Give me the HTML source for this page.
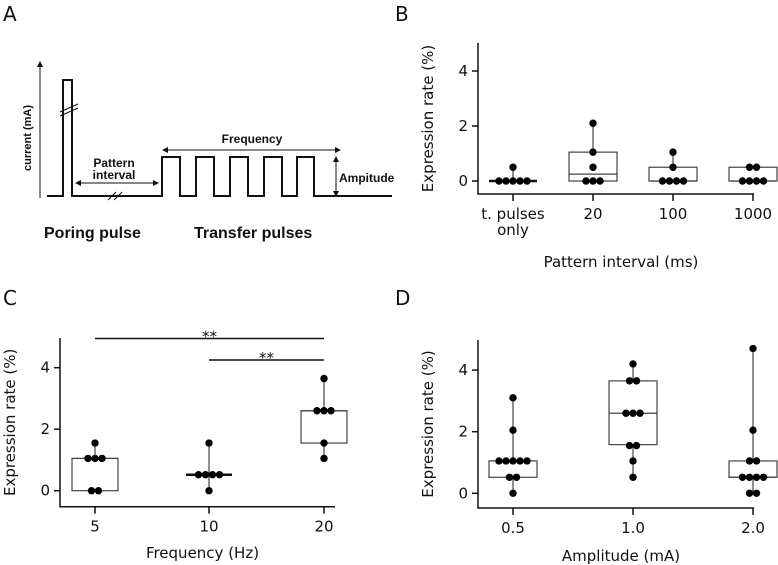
<!DOCTYPE html>
<html><head><meta charset="utf-8"><style>
body{margin:0;background:#fff}
svg{display:block}
.t{font-family:"DejaVu Sans","Liberation Sans",sans-serif;font-size:15px;fill:#111}
.a{font-family:"Liberation Sans",sans-serif;font-weight:bold;fill:#111}
.L{font-family:"DejaVu Sans","Liberation Sans",sans-serif;font-size:20px;fill:#111}
</style></head><body>
<svg id="s" width="778" height="565" xmlns="http://www.w3.org/2000/svg">
<defs><marker id="ar" markerWidth="6" markerHeight="6" refX="5" refY="3" orient="auto-start-reverse"><path d="M0,0L6,3L0,6z" fill="#111"/></marker></defs>
<g>
<text class="L" x="3" y="21">A</text>
<line x1="40" y1="198" x2="40" y2="62" stroke="#111" stroke-width="1" marker-end="url(#ar)"/>
<text class="a" font-size="11" transform="translate(31,138) rotate(-90)" text-anchor="middle">current (mA)</text>
<path d="M47,196H63V80H72V196H162V157H180V196H196V157H214V196H230V157H248V196H264V157H282V196H297V157H314V196H392" fill="none" stroke="#111" stroke-width="2"/>
<path d="M60,112L78,104M60,116L78,108" stroke="#111" stroke-width="1"/>
<path d="M108,200L116,192M114,200L122,192" stroke="#111" stroke-width="1"/>
<line x1="76" y1="183" x2="158" y2="183" stroke="#111" marker-start="url(#ar)" marker-end="url(#ar)"/>
<text class="a" font-size="12" x="114" y="167" text-anchor="middle">Pattern</text>
<text class="a" font-size="12" x="114" y="179" text-anchor="middle">interval</text>
<line x1="163" y1="150" x2="340" y2="150" stroke="#111" marker-start="url(#ar)" marker-end="url(#ar)"/>
<text class="a" font-size="12" x="252" y="143" text-anchor="middle">Frequency</text>
<line x1="336" y1="157" x2="336" y2="196" stroke="#111" marker-start="url(#ar)" marker-end="url(#ar)"/>
<text class="a" font-size="12" x="339" y="182">Ampitude</text>
<text class="a" font-size="16" x="44" y="238">Poring pulse</text>
<text class="a" font-size="16" x="194" y="238">Transfer pulses</text>
</g>
<text class="L" x="395" y="21">B</text>
<text class="L" x="3" y="305">C</text>
<text class="L" x="395" y="305">D</text>
</svg>
<script>
// Panel B data
const bCats=["t. pulses|only","20","100","1000"];
const bPoints=[[0.5,0,0,0,0,0],[2.1,1.05,0.5,0,0,0],[1.05,0.5,0,0,0,0],[0.5,0.5,0,0,0,0]];
const bBoxes=[[0,0,0],[0,0.25,1.05],[0,0,0.5],[0,0,0.5]];
const bTicks=[0,2,4];
// Panel C data
const cCats=["5","10","20"];
const cPoints=[[1.55,1.05,1.05,1.05,0,0],[1.55,0.52,0.52,0.52,0.52,0],[3.65,2.6,2.6,2.6,1.55,1.05]];
const cBoxes=[[0,1.05,1.05],[0.52,0.52,0.52],[1.55,2.6,2.6]];
const cTicks=[0,2,4];
const cSig=[[0,2,4.95],[1,2,4.25]];
// Panel D data
const dCats=["0.5","1.0","2.0"];
const dPoints=[[3.1,2.05,1.05,1.05,1.05,1.05,1.05,0.52,0.52,0],[4.2,3.65,3.65,2.6,2.6,2.6,1.55,1.55,1.05,0.52],[4.7,2.05,1.05,1.05,0.52,0.52,0.52,0.52,0,0]];
const dBoxes=[[0.52,1.05,1.05],[1.58,2.6,3.65],[0.52,0.52,1.05]];
const dTicks=[0,2,4];

const svg=document.getElementById('s');const NS="http://www.w3.org/2000/svg";
function mk(t,a,p){const e=document.createElementNS(NS,t);for(const k in a)e.setAttribute(k,a[k]);p.appendChild(e);return e;}
function panel(cfg){
 const g=mk('g',{},svg);
 
 
 const y=v=>cfg.y0-v*cfg.k;
 const x=i=>cfg.xs[i];
 const ax=mk('path',{d:`M${cfg.ax},${cfg.top}V${cfg.xa}H${cfg.xe}`,fill:'none',stroke:'#111','stroke-width':1.5},g);
 
 
 cfg.ticks.forEach(t=>{
  const l=mk('line',{x1:cfg.ax-6,x2:cfg.ax,y1:y(t),y2:y(t),stroke:'#111','stroke-width':1.5},g);
  
  
  const tx=mk('text',{x:cfg.ax-10,y:y(t)+5,'text-anchor':'end',class:'t'},g);tx.textContent=t;
  
  
 });
 const yt=mk('text',{class:'t',transform:`translate(${cfg.ax-45},${(cfg.top+cfg.xa)/2}) rotate(-90)`,'text-anchor':'middle'},g);yt.textContent='Expression rate (%)';
 
 
 cfg.cats.forEach((c,i)=>{
  const l=mk('line',{x1:x(i),x2:x(i),y1:cfg.xa,y2:cfg.xa+7,stroke:'#111','stroke-width':1.5},g);
  
  
  c.split('|').forEach((s,j)=>{
   const tx=mk('text',{x:x(i),y:cfg.xa+25+j*16,'text-anchor':'middle',class:'t'},g);tx.textContent=s;
   
   
  });
  const pts=cfg.pts[i],b=cfg.box[i];
  const mx=Math.max(...pts),mn=Math.min(...pts);
  const w=mk('line',{x1:x(i),x2:x(i),y1:y(mx),y2:y(mn),stroke:'#444','stroke-width':1.2},g);
  
  
  const hw=cfg.hw;
  if(b[2]>b[0]){
   const r=mk('rect',{x:x(i)-hw,y:y(b[2]),width:2*hw,height:y(b[0])-y(b[2]),fill:'#fff',stroke:'#444','stroke-width':1.2},g);
   
   
   const m=mk('line',{x1:x(i)-hw,x2:x(i)+hw,y1:y(b[1]),y2:y(b[1]),stroke:'#444','stroke-width':1.2},g);
   
   
  }else{
   const m=mk('line',{x1:x(i)-hw,x2:x(i)+hw,y1:y(b[1]),y2:y(b[1]),stroke:'#111','stroke-width':2.5},g);
   
   
  }
  const groups={};pts.forEach(v=>{(groups[v]=groups[v]||[]).push(v)});
  Object.keys(groups).forEach(v=>{
   const n=groups[v].length;
   for(let j=0;j<n;j++){
    const d=mk('circle',{cx:x(i)+(j-(n-1)/2)*7,cy:y(+v),r:3.7,fill:'#000'},g);
    
    
   }
  });
 });
 const xt=mk('text',{class:'t',x:(cfg.ax+cfg.xe)/2+5,y:cfg.xt,'text-anchor':'middle'},g);xt.textContent=cfg.xtitle;
 
 
 (cfg.sig||[]).forEach(s=>{
  const l=mk('line',{x1:x(s[0]),x2:x(s[1]),y1:y(s[2]),y2:y(s[2]),stroke:'#111','stroke-width':1.5},g);
  
  
  const t=mk('text',{class:'t',x:(x(s[0])+x(s[1]))/2,y:y(s[2])+3,'text-anchor':'middle','font-size':'12'},g);t.textContent='**';
  
  
 });
}
panel({name:'panel-b',cats:bCats,pts:bPoints,box:bBoxes,ticks:bTicks,y0:181,k:27.5,top:43,ax:478,xa:194,xe:754,xs:[513,593,673,753],hw:24,xt:267,xtitle:'Pattern interval (ms)'});
panel({name:'panel-c',cats:cCats,pts:cPoints,box:cBoxes,ticks:cTicks,y0:490.7,k:30.75,top:338,ax:60,xa:506.7,xe:335,xs:[95,209,324],hw:23,xt:558,xtitle:'Frequency (Hz)',sig:cSig});
panel({name:'panel-d',cats:dCats,pts:dPoints,box:dBoxes,ticks:dTicks,y0:493.3,k:30.8,top:340,ax:478,xa:508,xe:754,xs:[513,633,753],hw:24,xt:561,xtitle:'Amplitude (mA)'});
</script>
</body></html>
